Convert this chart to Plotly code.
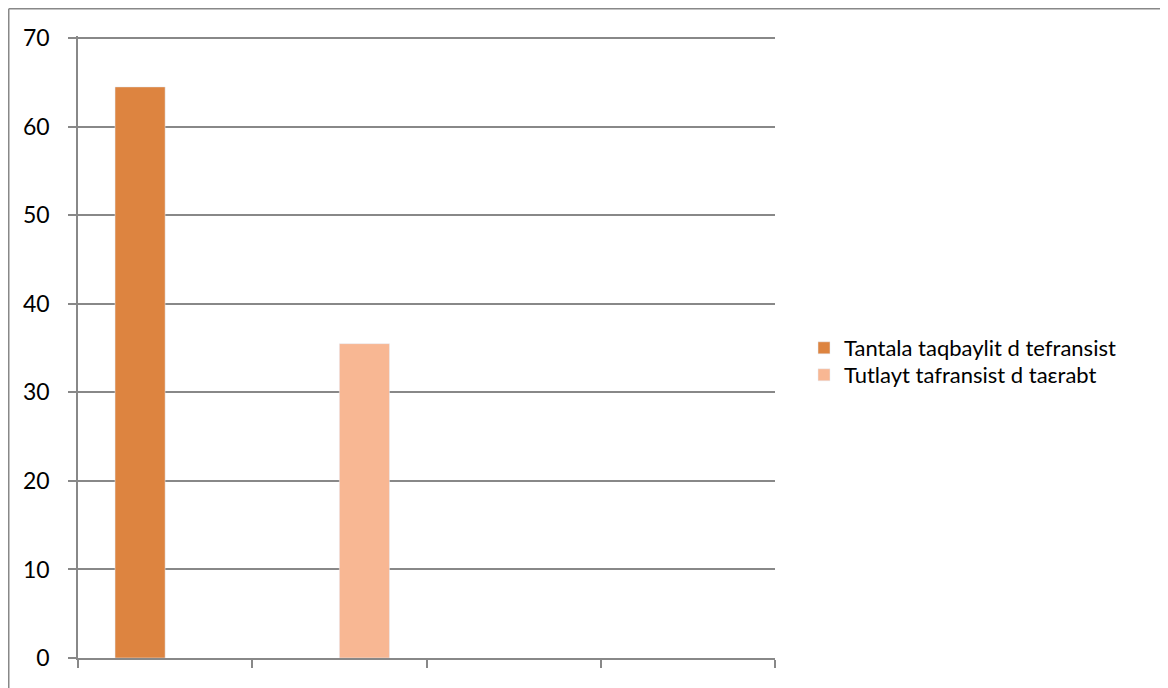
import plotly.graph_objects as go

categories = [1, 2, 3, 4]
series_names = ["Tantala taqbaylit d tefransist", "Tutlayt tafransist d taεrabt"]
series1 = [64.5, None, None, None]
series2 = [None, 35.5, None, None]
colors = ["#DD8440", "#F8B793"]
y_ticks = [0, 10, 20, 30, 40, 50, 60, 70]

# figure is placed 8px into the page by the default body margin
W, H = 1160, 680
L, R, T, B = 70, 767, 28, 650
Y_MAX = 70 * (B - T) / 619.8

def px_x(px):
    return (px - L) / (R - L)

def px_y(py):
    return (B - py) / (B - T)

fig = go.Figure()
fig.add_trace(go.Bar(x=categories, y=series1, name=series_names[0],
                     marker_color=colors[0], legend="legend"))
fig.add_trace(go.Bar(x=categories, y=series2, name=series_names[1],
                     marker_color=colors[1], legend="legend2"))

gray = "#888888"
legend_common = dict(xanchor="left", yanchor="middle", font=dict(size=22),
                     itemwidth=30, bgcolor="rgba(0,0,0,0)", borderwidth=0)
fig.update_layout(
    width=W, height=H,
    margin=dict(l=L, r=W - R, t=T, b=H - B, pad=0),
    paper_bgcolor="white", plot_bgcolor="white",
    barmode="group", bargap=0.425, bargroupgap=0,
    font=dict(family="Lato, Liberation Sans, sans-serif", size=23, color="#000000"),
    showlegend=True,
    legend=dict(x=px_x(796), y=px_y(340), **legend_common),
    legend2=dict(x=px_x(796), y=px_y(367), **legend_common),
    xaxis=dict(range=[0.5, 4.5], tickvals=[0.5, 1.5, 2.5, 3.5, 4.5], ticktext=[""] * 5,
               showgrid=False, showline=True, linecolor=gray, linewidth=1.5,
               ticks="outside", ticklen=8, tickcolor=gray, tickwidth=1.5, zeroline=False,
               fixedrange=True),
    yaxis=dict(range=[0, Y_MAX], tickvals=y_ticks, showgrid=True, gridcolor=gray, gridwidth=1.5,
               showline=True, linecolor=gray, linewidth=1.5, ticks="outside", ticklen=8,
               tickcolor=gray, tickwidth=1.5, zeroline=False, ticklabelstandoff=14,
               fixedrange=True),
)

# outer frame (only top/left edges visible)
fig.add_shape(type="line", xref="paper", yref="paper", x0=px_x(0.75), x1=px_x(1200),
              y0=px_y(0.75), y1=px_y(0.75), line=dict(color=gray, width=1.5))
fig.add_shape(type="line", xref="paper", yref="paper", x0=px_x(0.75), x1=px_x(0.75),
              y0=px_y(0.75), y1=px_y(720), line=dict(color=gray, width=1.5))

fig.write_html("out.html")
